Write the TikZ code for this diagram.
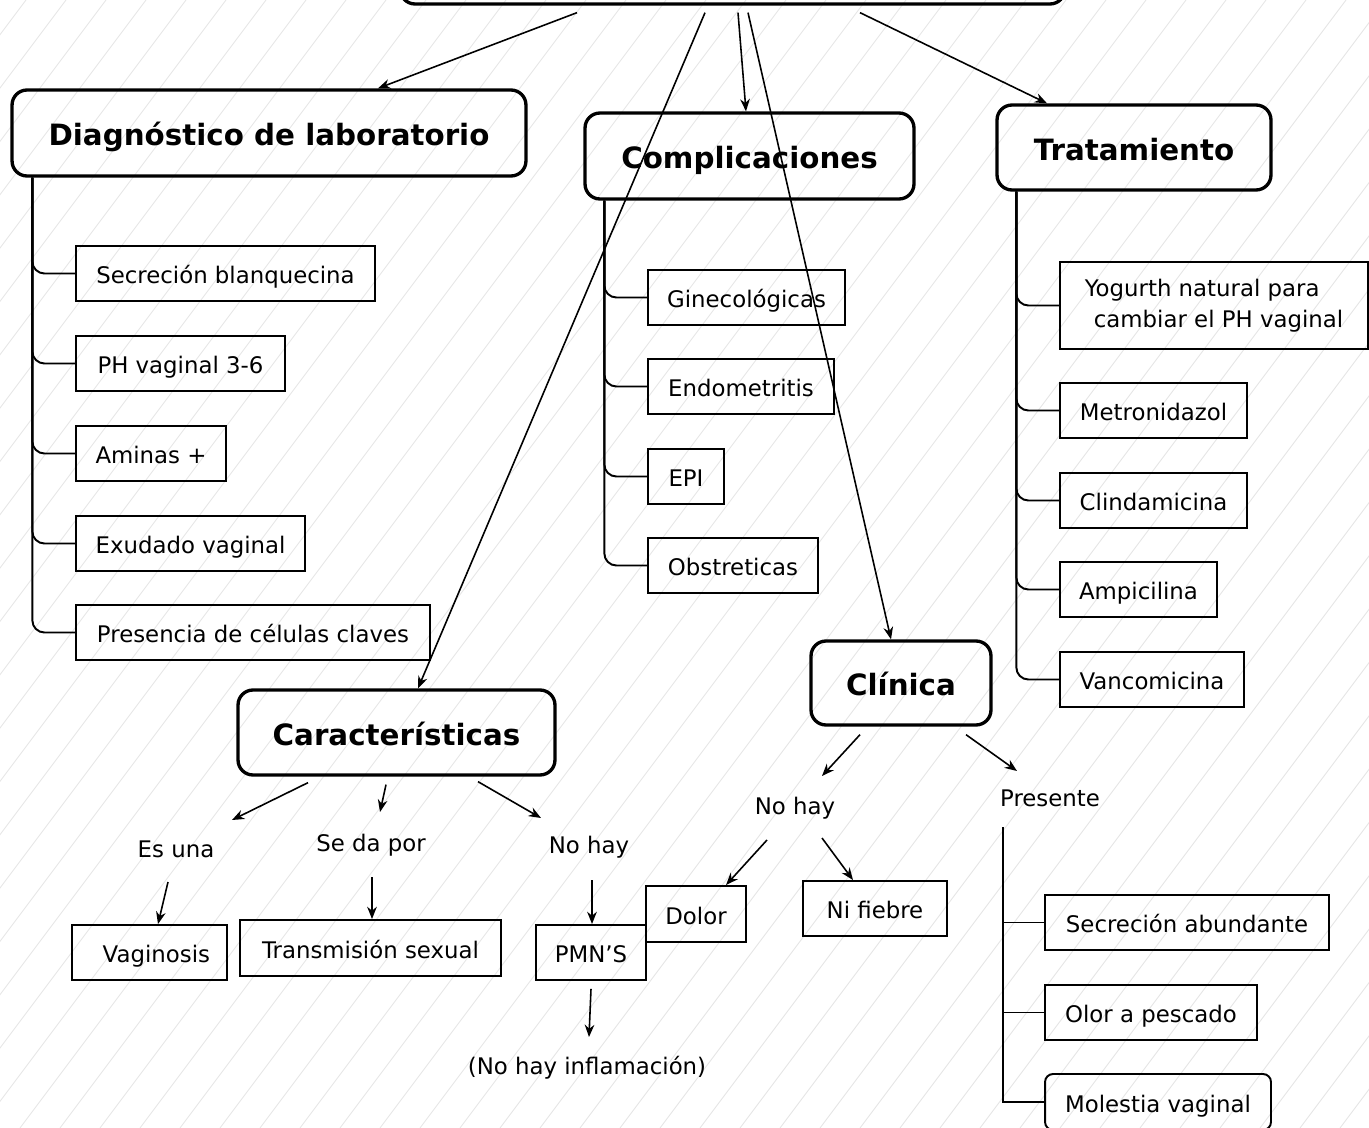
\documentclass[tikz,border=0pt]{standalone}
\usepackage{fontspec}
\setmainfont{DejaVu Sans}
\usetikzlibrary{calc,arrows.meta}
\begin{document}
\begin{tikzpicture}[x=0.02cm,y=-0.02cm,
  hatch/.style={draw=gray!20, line width=0.5pt},
  headbox/.style={draw, line width=1.9pt, rounded corners=0.3cm, inner sep=0pt, text height=16pt, text depth=1.6pt, font=\fontsize{16.7}{20}\selectfont\bfseries},
  plainbox/.style={draw, line width=1.1pt, inner sep=0pt, minimum height=1.1cm, font=\fontsize{13}{17.6}\selectfont},
  itembox/.style={plainbox, text height=13pt, text depth=1.5pt},
  lbl/.style={inner sep=0pt, text height=10.5pt, text depth=2pt, font=\fontsize{13}{17.6}\selectfont},
  arr/.style={-{Stealth[length=7pt,width=5.5pt]}, line width=0.9pt},
  conn/.style={line width=1.1pt},
  rconn/.style={line width=1.1pt, rounded corners=0.24cm}]
\useasboundingbox (0,0) rectangle (1369,1128);
\clip (0,0) rectangle (1369,1128);
% background hatching
\foreach \k in {-900,-860,...,1400} \draw[hatch] (\k,1128) -- ++(846,-1128);

% main boxes
\node[headbox, minimum width=13.3cm, minimum height=1.72cm] (top) at (732.5,-39) {};
\node[headbox, minimum width=10.28cm, minimum height=1.72cm] (diag) at (269,133) {Diagnóstico de laboratorio};
\node[headbox, minimum width=6.58cm, minimum height=1.72cm] (comp) at (749.5,156) {Complicaciones};
\node[headbox, minimum width=5.48cm, minimum height=1.70cm] (trat) at (1134,147.5) {Tratamiento};
\node[headbox, minimum width=6.34cm, minimum height=1.70cm] (char) at (396.5,732.5) {Características};
\node[headbox, minimum width=3.6cm, minimum height=1.68cm] (clin) at (901,683) {Clínica};

% Diagnostico items
\node[itembox, minimum width=5.98cm] (s1) at (225.5,273.5) {Secreción blanquecina};
\node[itembox, minimum width=4.18cm] (s2) at (180.5,363.5) {PH vaginal 3-6};
\node[itembox, minimum width=3.0cm] (s3) at (151,453.5) {Aminas +};
\node[itembox, minimum width=4.58cm] (s4) at (190.5,543.5) {Exudado vaginal};
\node[itembox, minimum width=7.08cm] (s5) at (253,632.5) {Presencia de células claves};

% Complicaciones items
\node[itembox, minimum width=3.94cm] (c1) at (746.5,297.5) {Ginecológicas};
\node[itembox, minimum width=3.72cm] (c2) at (741,386.5) {Endometritis};
\node[itembox, minimum width=1.52cm] (c3) at (686,476.5) {EPI};
\node[itembox, minimum width=3.4cm] (c4) at (733,565.5) {Obstreticas};

% Tratamiento items
\node[plainbox, minimum width=6.16cm, minimum height=1.74cm, align=left] (t1) at (1214,305.5) {Yogurth natural para\\\hspace*{0.4em}cambiar el PH vaginal};
\node[itembox, minimum width=3.74cm] (t2) at (1153.5,410.5) {Metronidazol};
\node[itembox, minimum width=3.74cm] (t3) at (1153.5,500.5) {Clindamicina};
\node[itembox, minimum width=3.14cm] (t4) at (1138.5,589.5) {Ampicilina};
\node[itembox, minimum width=3.68cm] (t5) at (1152,679.5) {Vancomicina};

% Caracteristicas branch
\node[lbl] (esuna) at (176,850) {Es una};
\node[lbl] (seda) at (371,844) {Se da por};
\node[lbl] (nohay1) at (589,846) {No hay};
\node[itembox, minimum width=3.1cm] (vag) at (149.5,952.5) {\hspace*{0.6em}Vaginosis};
\node[itembox, minimum width=5.22cm, minimum height=1.12cm] (trans) at (370.5,948) {Transmisión sexual};
\node[itembox, minimum width=2.2cm] (pmn) at (591,952.5) {PMN’S};
\node[lbl] (noinf) at (587,1067) {(No hay inflamación)};

% Clinica branch
\node[lbl] (nohay2) at (795,807) {No hay};
\node[lbl] (pres) at (1050,799) {Presente};
\node[itembox, minimum width=2.0cm, minimum height=1.12cm] (dolor) at (696,914) {Dolor};
\node[itembox, minimum width=2.88cm] (fiebre) at (875,908.5) {Ni fiebre};
\node[itembox, minimum width=5.68cm] (sa) at (1187,922.5) {Secreción abundante};
\node[itembox, minimum width=4.24cm] (op) at (1151,1012.5) {Olor a pescado};
\node[itembox, minimum width=4.52cm, minimum height=1.12cm, rounded corners=0.16cm] (mv) at (1158,1102) {Molestia vaginal};
\coordinate (pv) at (1003,827);

% arrows from top box
\draw[arr] ($(top.south)+(-155.5,7)$) -- ($(diag.north)+(109,0)$);
\draw[arr] ($(top.south)+(-27.5,7)$) -- ($(char.north)+(21.5,0)$);
\draw[arr] ($(top.south)+(5.5,7)$) -- ($(comp.north)+(-3.5,0)$);
\draw[arr] ($(top.south)+(15.5,7)$) -- ($(clin.north)+(-10,0)$);
\draw[arr] ($(top.south)+(127.5,7)$) -- ($(trat.north)+(-87,0)$);

% tree connectors
\foreach \n in {s1,s2,s3,s4,s5} \draw[rconn] ($(diag.south west)+(22,0)$) |- (\n.west);
\foreach \n in {c1,c2,c3,c4} \draw[rconn] ($(comp.south west)+(21,0)$) |- (\n.west);
\foreach \n in {t1,t2,t3,t4,t5} \draw[rconn] ($(trat.south west)+(21,0)$) |- (\n.west);
\foreach \n in {sa,op,mv} \draw[conn] (pv) |- (\n.west);

% Caracteristicas arrows
\draw[arr] ($(char.south)+(-88.5,6)$) -- ($(esuna)+(56,-30)$);
\draw[arr] ($(char.south)+(-10.5,8)$) -- ($(seda)+(9,-32)$);
\draw[arr] ($(char.south)+(81.5,5)$) -- ($(nohay1)+(-48,-28)$);
\draw[arr] ($(esuna)+(-8,32)$) -- ($(vag.north)+(8.5,0)$);
\draw[arr] ($(seda)+(1,33)$) -- ($(trans.north)+(1.5,0)$);
\draw[arr] ($(nohay1)+(3,34)$) -- ($(pmn.north)+(1,0)$);
\draw[arr] ($(pmn.south)+(0,8)$) -- ($(noinf)+(2,-30)$);

% Clinica arrows
\draw[arr] ($(clin.south)+(-41,8)$) -- ($(nohay2)+(27,-31)$);
\draw[arr] ($(clin.south)+(65,8)$) -- ($(pres)+(-33,-28)$);
\draw[arr] ($(nohay2)+(-28,33)$) -- ($(dolor.north)+(30,0)$);
\draw[arr] ($(nohay2)+(27,31)$) -- ($(fiebre.north)+(-22,0)$);
\end{tikzpicture}
\end{document}
